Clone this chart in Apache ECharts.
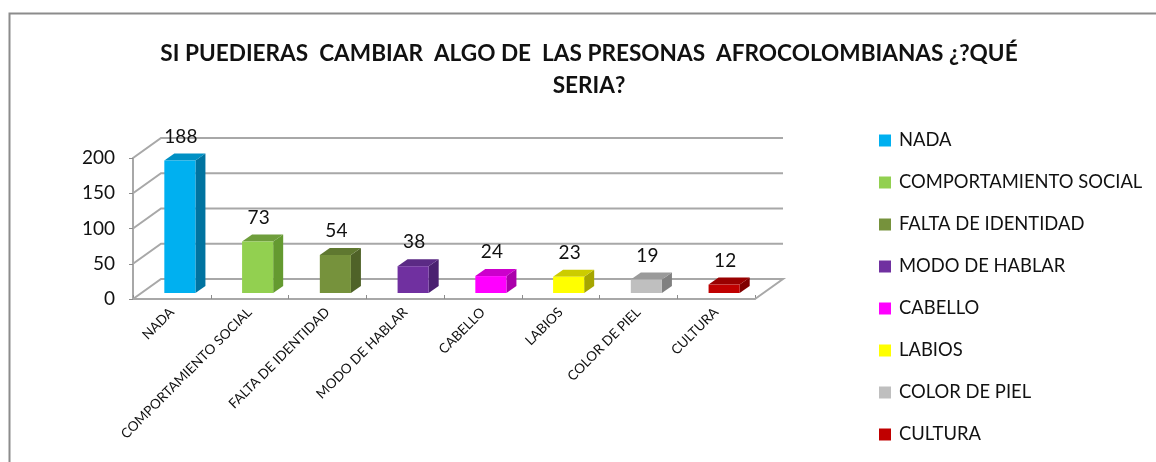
<!DOCTYPE html>
<html>
<head>
<meta charset="utf-8">
<style>html,body{margin:0;padding:0;background:#fff}#c{width:1156px;height:462px}</style>
<script src="https://cdn.jsdelivr.net/npm/echarts@6/dist/echarts.min.js"></script>
</head>
<body>
<div id="c"></div>
<script>
const categories = ['NADA','COMPORTAMIENTO SOCIAL','FALTA DE IDENTIDAD','MODO DE HABLAR','CABELLO','LABIOS','COLOR DE PIEL','CULTURA'];
const values = [188,73,54,38,24,23,19,12];
const frontColors = ['#00b0f0','#92d050','#76923c','#7030a0','#ff00ff','#ffff00','#bfbfbf','#c00000'];
const topColors = ['#0090c4','#6f9e3c','#5f7830','#5b2a85','#cc00cc','#cccc00','#9a9a9a','#990000'];
const sideColors = ['#0073a0','#649a30','#4f6228','#4a2070','#aa00aa','#a6a600','#808080','#800000'];
const yTicks = [0,50,100,150,200];
const titleText = 'SI PUEDIERAS  CAMBIAR  ALGO DE  LAS PRESONAS  AFROCOLOMBIANAS ¿?QUÉ\nSERIA?';

const FONT = 'Lato';
const DX = 28, DY = -20;      // depth of the floor
const BDX = 10, BDY = -7;     // depth of a bar
const GRID = '#a8a8a8';

function barRender(i){
  return function(params, api){
    const top = api.coord([api.value(0), api.value(1)]);
    const base = api.coord([api.value(0), 0]);
    const band = api.size([1,0])[0];
    const w = band*0.4;
    const cx = top[0]+8, off = -6;
    const l = cx-w/2, r = cx+w/2, t = top[1]+off, b = base[1]+off;
    return {type:'group', children:[
      {type:'polygon', shape:{points:[[r,t],[r+BDX,t+BDY],[r+BDX,b+BDY],[r,b]]}, style:{fill:sideColors[i]}},
      {type:'polygon', shape:{points:[[l,t],[l+BDX,t+BDY],[r+BDX,t+BDY],[r,t]]}, style:{fill:topColors[i]}},
      {type:'rect', shape:{x:l,y:t,width:w,height:b-t}, style:{fill:frontColors[i]}},
      {type:'text', style:{text:String(api.value(1)), x:cx+1, y:t+BDY-17, align:'center', verticalAlign:'middle', font:'19px '+FONT, fill:'#111'}}
    ]};
  };
}
function gridRender(params, api){
  const p = api.coord([0, api.value(0)]);
  const band = api.size([1,0])[0];
  const x0 = p[0]-band/2, x1 = x0+band*categories.length, y = p[1];
  const pts = [[x0,y],[x0+DX,y+DY],[x1+DX,y+DY]];
  if (api.value(0)===0) pts.push([x1,y]);
  return {type:'polyline', shape:{points:pts}, style:{fill:null, stroke:GRID, lineWidth:2}};
}
const series = [{
  type:'custom', name:'grid', z:1, silent:true, renderItem:gridRender,
  data:yTicks.map(v=>[v]), encode:{y:0}, coordinateSystem:'cartesian2d'
}];
categories.forEach((c,i)=>{
  series.push({type:'custom', name:c, z:3, renderItem:barRender(i),
    itemStyle:{color:frontColors[i]},
    data:[[i,values[i]]], encode:{x:0,y:1}});
});
const chart = echarts.init(document.getElementById('c'), null, {renderer:'canvas'});
chart.setOption({
  animation:false, backgroundColor:'#fff',
  title:{text:titleText, left:584, top:33, textAlign:'center',
    textStyle:{fontFamily:FONT, fontSize:22.6, fontWeight:'bold', color:'#111', lineHeight:32}},
  grid:{left:133, right:401, top:158, bottom:163},
  legend:{orient:'vertical', left:874, top:126, itemWidth:12, itemHeight:12, itemGap:23, selectedMode:false,
    icon:'rect', data:categories,
    textStyle:{fontFamily:FONT, fontSize:18.4, color:'#111', padding:[0,0,0,3], lineHeight:19}},
  xAxis:{type:'category', data:categories,
    axisLine:{lineStyle:{color:GRID,width:2}},
    axisTick:{show:true, inside:true, length:4, lineStyle:{color:'#8c8c8c'}},
    axisLabel:{rotate:45, interval:0, fontFamily:FONT, fontSize:13.5, color:'#111', margin:11}},
  yAxis:{type:'value', min:0, max:200, interval:50,
    axisLine:{show:true, lineStyle:{color:GRID,width:2}},
    axisTick:{show:true, length:4, lineStyle:{color:'#8c8c8c'}},
    splitLine:{show:false},
    axisLabel:{fontFamily:FONT, fontSize:19, color:'#111', margin:18}},
  graphic:[{type:'polyline', z:-1, shape:{points:[[9.5,462],[9.5,13.5],[1156,13.5]]}, style:{fill:null, stroke:'#8c8c8c', lineWidth:2}}],
  series
});
</script>
</body>
</html>
